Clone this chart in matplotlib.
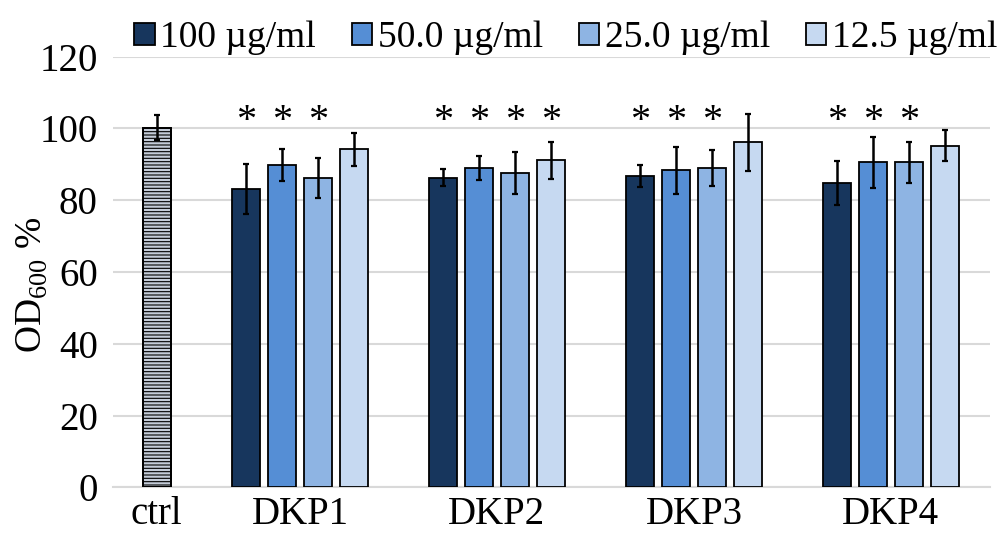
import numpy as np
import matplotlib
matplotlib.use("Agg")
import matplotlib.pyplot as plt

# ===== データ =====
groups = ["DKP1", "DKP2", "DKP3", "DKP4"]
series = ["100 µg/ml", "50.0 µg/ml", "25.0 µg/ml", "12.5 µg/ml"]
ctrl_value = 100.2
ctrl_err = 3.4
values = [
    [83.0, 86.2, 86.7, 84.7],   # 100
    [89.7, 89.0, 88.3, 90.5],   # 50.0
    [86.2, 87.5, 89.0, 90.5],   # 25.0
    [94.2, 91.1, 96.1, 95.2],   # 12.5
]
errors = [
    [7.0, 2.4, 3.1, 6.2],
    [4.5, 3.3, 6.5, 7.0],
    [5.5, 5.8, 5.0, 5.6],
    [4.6, 5.2, 8.0, 4.3],
]
# 有意差マーク (series x group)
stars = [
    [1, 1, 1, 1],
    [1, 1, 1, 1],
    [1, 1, 1, 1],
    [0, 1, 0, 0],
]

colors = ["#17365d", "#558ed5", "#8eb4e3", "#c6d9f1"]

plt.rcParams["font.family"] = ["Liberation Serif", "DejaVu Serif"]
plt.rcParams["mathtext.fontset"] = "custom"
plt.rcParams["mathtext.rm"] = "Liberation Serif"
plt.rcParams["hatch.linewidth"] = 0.8

fig = plt.figure(figsize=(10.03, 5.35), dpi=100)
ax = fig.add_axes([113 / 1003, 1 - 487.3 / 535, 877 / 1003, (487.3 - 56.5) / 535])

width = 0.142
step = 0.1827
centers = np.arange(1, len(groups) + 1)
ctrl_x = 0.273

# ctrl（横縞）
plt.rcParams["hatch.color"] = "#2a4a7a"
ax.bar(ctrl_x, ctrl_value, width, color="#c3cbd8", edgecolor="black",
       linewidth=1.3, hatch="-----", zorder=3)
ax.bar(ctrl_x, ctrl_value, width, fill=False, edgecolor="black",
       linewidth=1.3, zorder=4)
ax.errorbar(ctrl_x, ctrl_value, yerr=ctrl_err, fmt="none", ecolor="black",
            elinewidth=1.8, capsize=2.2, capthick=1.6, zorder=5)

for i, name in enumerate(series):
    xs = centers + (i - 1.5) * step
    ax.bar(xs, values[i], width, color=colors[i], edgecolor="black",
           linewidth=1.3, label=name, zorder=3)
    ax.errorbar(xs, values[i], yerr=errors[i], fmt="none", ecolor="black",
                elinewidth=1.8, capsize=2.2, capthick=1.6, zorder=5)
    for j, s in enumerate(stars[i]):
        if s:
            ax.text(xs[j], 102.0, "*", ha="center", va="center", fontsize=29,
                    zorder=6)

ax.set_xlim(0.051, 4.503)
ax.set_ylim(0, 120)
ax.set_yticks(range(0, 121, 20))
ax.set_xticks([ctrl_x] + list(centers))
ax.set_xticklabels(["ctrl"] + groups)
ax.tick_params(axis="both", length=0, labelsize=28)
ax.tick_params(axis="y", pad=11)
ax.tick_params(axis="x", pad=6)
ax.grid(axis="y", color="#d9d9d9", linewidth=1.5, zorder=0)
ax.set_axisbelow(True)
for sp in ["left", "right", "top"]:
    ax.spines[sp].set_visible(False)
ax.spines["bottom"].set_color("#d9d9d9")
ax.spines["bottom"].set_linewidth(1.5)

ax.set_ylabel(r"OD$_{\mathrm{600}}$ %", fontsize=27)
ax.yaxis.set_label_coords(-0.072, 0.47)

fig.legend(loc="center left", bbox_to_anchor=(134 / 1003, 1 - 38 / 535),
           ncol=4, frameon=False, fontsize=27, handlelength=0.55,
           handleheight=0.55, handletextpad=0.15, columnspacing=0.95,
           borderpad=0, borderaxespad=0)

fig.savefig("out.png", dpi=100)
